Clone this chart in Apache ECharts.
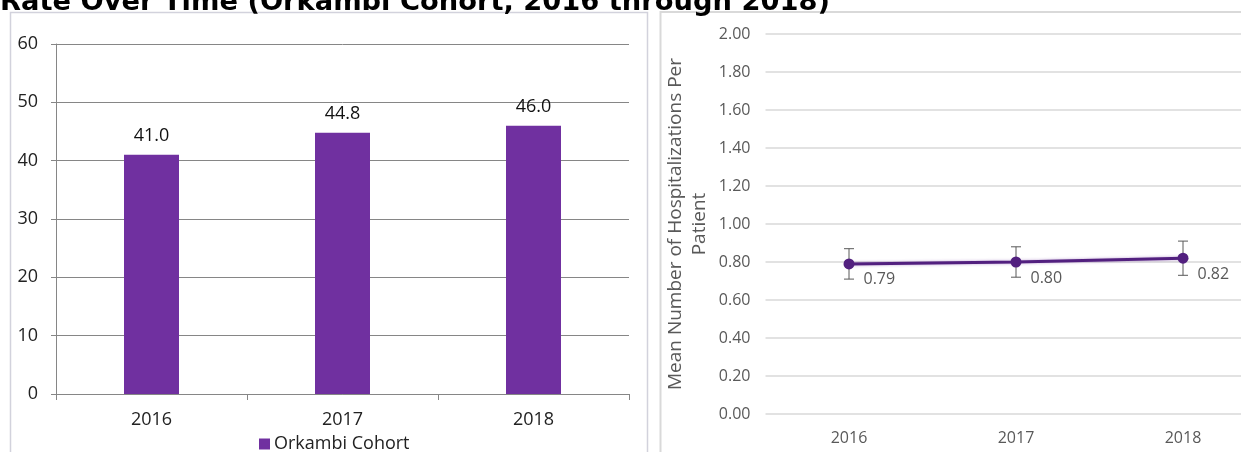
<!DOCTYPE html>
<html>
<head>
<meta charset="utf-8">
<script src="https://cdn.jsdelivr.net/npm/echarts@6/dist/echarts.min.js"></script>
<style>
  html, body { margin: 0; padding: 0; background: #ffffff; overflow: hidden; }
  /* the right panel's plot runs past the window's right edge */
  #chart { width: 1275px; height: 452px; }
</style>
</head>
<body>
<div id="chart"></div>
<script>
// Years shown on both panels
const years = ['2016', '2017', '2018'];
// Left panel: Orkambi cohort rate (%) per year
const cohortRate = [41.0, 44.8, 46.0];
// Right panel: mean hospitalizations per patient with error-bar bounds
const meanHosp = [0.79, 0.80, 0.82];
const hospLow = [0.71, 0.72, 0.73];
const hospHigh = [0.87, 0.88, 0.91];

const titleText = 'Rate Over Time (Orkambi Cohort, 2016 through 2018)';
const seriesName = 'Orkambi Cohort';
const yNameRight = 'Mean Number of Hospitalizations Per\nPatient';

const FONT = 'Open Sans';
const chart = echarts.init(document.getElementById('chart'), null, { renderer: 'canvas' });

chart.setOption({
  backgroundColor: '#ffffff',
  animation: false,
  graphic: [
    // panel frames
    { type: 'rect', silent: true, z: -1,
      shape: { x: 10.5, y: 12.5, width: 637, height: 470 },
      style: { fill: null, stroke: '#d2d2dc', lineWidth: 1.5 } },
    { type: 'rect', silent: true, z: -1,
      shape: { x: 660.5, y: 12, width: 700, height: 470 },
      style: { fill: null, stroke: '#d9d9d9', lineWidth: 2 } },
    // heading
    { type: 'text', silent: true, left: 0, top: -11,
      style: { text: titleText, fill: '#000000',
               font: 'bold 27.3px "DejaVu Sans"' } }
  ],
  legend: {
    data: [seriesName],
    left: 259, top: 435, padding: 0,
    itemWidth: 11, itemHeight: 11, itemGap: 0,
    icon: 'rect',
    textStyle: { fontFamily: FONT, fontSize: 18, color: '#222222', padding: [0, 0, 0, -1] }
  },
  grid: [
    { left: 56, top: 44, width: 573, height: 350 },
    { left: 765.5, top: 34, width: 501, height: 380 }
  ],
  xAxis: [
    { type: 'category', gridIndex: 0, data: years,
      axisLine: { lineStyle: { color: '#868686', width: 1 } },
      axisTick: { show: true, length: 6, lineStyle: { color: '#868686' } },
      axisLabel: { color: '#222222', fontFamily: FONT, fontSize: 18, margin: 17 } },
    { type: 'category', gridIndex: 1, data: years,
      axisLine: { show: false },
      axisTick: { show: false },
      axisLabel: { color: '#595959', fontFamily: FONT, fontSize: 16, margin: 16 } }
  ],
  yAxis: [
    { type: 'value', gridIndex: 0, min: 0, max: 60, interval: 10,
      axisLine: { show: true, lineStyle: { color: '#868686' } },
      axisTick: { show: true, length: 5, lineStyle: { color: '#868686' } },
      splitLine: { lineStyle: { color: '#868686', width: 1 } },
      axisLabel: { color: '#222222', fontFamily: FONT, fontSize: 18, margin: 18 } },
    { type: 'value', gridIndex: 1, min: 0, max: 2, interval: 0.2,
      axisLine: { show: false },
      axisTick: { show: false },
      splitLine: { lineStyle: { color: '#d9d9d9', width: 1.5 } },
      axisLabel: { color: '#595959', fontFamily: FONT, fontSize: 16, margin: 15,
                   formatter: v => v.toFixed(2) },
      name: yNameRight, nameLocation: 'middle', nameGap: 54,
      nameTextStyle: { color: '#595959', fontFamily: FONT, fontSize: 19,
                       lineHeight: 24, align: 'center' } }
  ],
  series: [
    { name: seriesName, type: 'bar', xAxisIndex: 0, yAxisIndex: 0,
      data: cohortRate, barWidth: 55,
      itemStyle: { color: '#7030a0' },
      label: { show: true, position: 'top', distance: 10,
               formatter: p => p.value.toFixed(1),
               color: '#111111', fontFamily: FONT, fontSize: 18 } },
    { name: 'Mean hospitalizations', type: 'line', xAxisIndex: 1, yAxisIndex: 1,
      data: meanHosp, symbol: 'circle', symbolSize: 11, z: 3,
      lineStyle: { color: '#52207f', width: 3,
                   shadowColor: 'rgba(112,48,160,0.45)', shadowBlur: 3 },
      itemStyle: { color: '#52207f' },
      label: { show: true, position: 'right', distance: 9, offset: [0, 16],
               formatter: p => p.value.toFixed(2),
               color: '#595959', fontFamily: FONT, fontSize: 16 } },
    { name: 'Error bars', type: 'custom', xAxisIndex: 1, yAxisIndex: 1, z: 2,
      data: years.map((y, i) => [i, hospLow[i], hospHigh[i]]),
      encode: { x: 0, y: [1, 2] },
      renderItem: (params, api) => {
        const lo = api.coord([api.value(0), api.value(1)]);
        const hi = api.coord([api.value(0), api.value(2)]);
        const cap = 5;
        const st = { stroke: '#595959', lineWidth: 1 };
        return { type: 'group', children: [
          { type: 'line', shape: { x1: lo[0], y1: lo[1], x2: hi[0], y2: hi[1] }, style: st },
          { type: 'line', shape: { x1: lo[0] - cap, y1: lo[1], x2: lo[0] + cap, y2: lo[1] }, style: st },
          { type: 'line', shape: { x1: hi[0] - cap, y1: hi[1], x2: hi[0] + cap, y2: hi[1] }, style: st }
        ] };
      } }
  ]
});
</script>
</body>
</html>
